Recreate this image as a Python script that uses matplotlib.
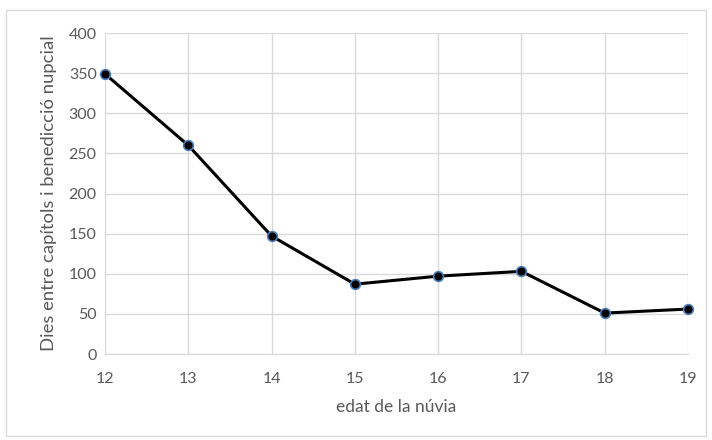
import matplotlib
matplotlib.use("Agg")
import matplotlib.pyplot as plt
from matplotlib.patches import Rectangle

ages = [12, 13, 14, 15, 16, 17, 18, 19]
days = [349, 260, 147, 87, 97, 103, 51, 56]
yticks = [0, 50, 100, 150, 200, 250, 300, 350, 400]

plt.rcParams['font.family'] = ['Lato', 'DejaVu Sans']
grey = '#595959'
grid = '#d9d9d9'

fig = plt.figure(figsize=(7.12, 4.4), dpi=100)
fig.patches.append(Rectangle((6/712, 4/440), 700/712, 426/440, transform=fig.transFigure,
                             fill=False, edgecolor='#d9d9d9', linewidth=1))
ax = fig.add_axes([105/712, 1-354/440, (688-105)/712, (354-33)/440])
ax.plot(ages, days, color='black', linewidth=2.2, marker='o', markersize=7,
        markerfacecolor='black', markeredgecolor='#4a7ebb', markeredgewidth=1.2,
        zorder=3, clip_on=False)
ax.set_xlim(12, 19)
ax.set_ylim(0, 400)
ax.set_yticks(yticks)
ax.set_xticks(ages)
ax.grid(True, color=grid, linewidth=1)
ax.set_axisbelow(True)
for s in ['top', 'right', 'left']:
    ax.spines[s].set_visible(False)
ax.spines['bottom'].set_color(grid)
ax.tick_params(length=0, colors=grey, labelsize=11.5)
ax.tick_params(axis='x', pad=13)
ax.tick_params(axis='y', pad=6)
ax.set_xlabel('edat de la núvia', color=grey, fontsize=12.5, labelpad=9)
ax.set_ylabel('Dies entre capítols i benedicció nupcial', color=grey, fontsize=13.3, labelpad=8)
fig.savefig('out.png', dpi=100)
